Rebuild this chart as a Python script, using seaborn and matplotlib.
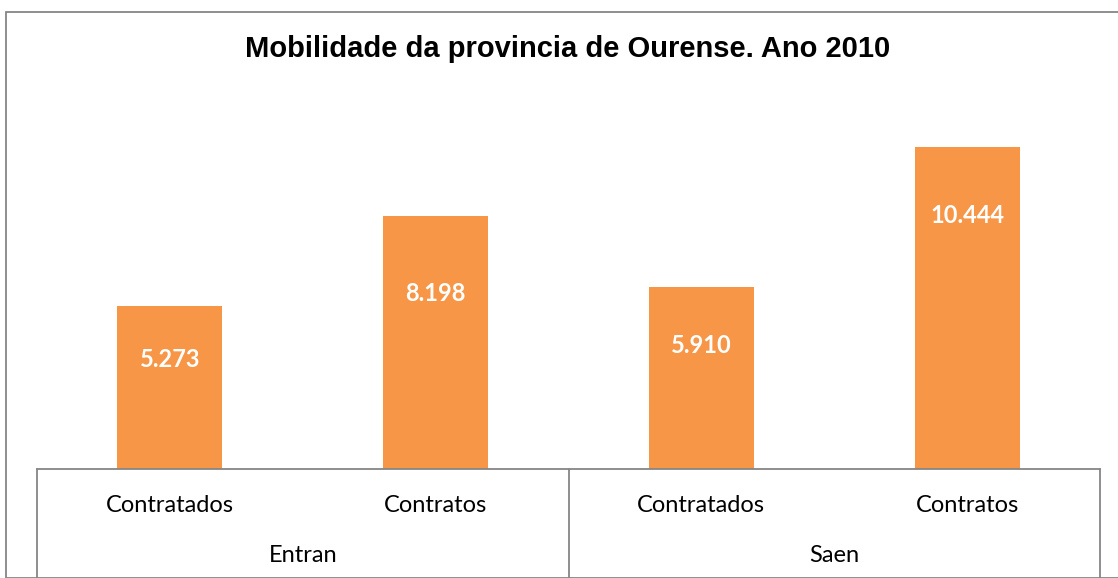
import numpy as np
import pandas as pd
import matplotlib
matplotlib.use('Agg')
import matplotlib.pyplot as plt
import matplotlib.patches as mpatches
import seaborn as sns

# Datos del gráfico
grupos = ['Entran', 'Saen']
categorias = ['Contratados', 'Contratos']
valores = [5273, 8198, 5910, 10444]
etiquetas = ['5.273', '8.198', '5.910', '10.444']

titulo = 'Mobilidade da provincia de Ourense. Ano 2010'
naranja = '#F79646'
gris = '#868686'

datos = pd.DataFrame({
    'clave': [f'{g}-{c}' for g in grupos for c in categorias],
    'categoria': [c for g in grupos for c in categorias],
    'valor': valores,
})

sns.set_style('white')
plt.rcParams['font.family'] = ['Lato', 'DejaVu Sans']

W, H = 1118, 578
fig = plt.figure(figsize=(W / 100, H / 100), dpi=100)

# borde del gráfico
fig.patches.append(mpatches.Rectangle((6 / W, 0), 2, 1 - 12 / H, transform=fig.transFigure,
                                      fill=False, edgecolor=gris, linewidth=1.3))

izq, der, base, techo = 37, 1100, 469, 99
ax = fig.add_axes([izq / W, (H - base) / H, (der - izq) / W, (base - techo) / H])

sns.barplot(data=datos, x='clave', y='valor', color=naranja, width=0.395,
            saturation=1, ax=ax, edgecolor='none')
ax.set_ylim(0, 12000)
ax.set_xlim(-0.5, 3.5)
ax.set_xlabel('')
ax.set_ylabel('')
ax.set_yticks([])
ax.set_xticks([])
for s in ['top', 'right', 'left']:
    ax.spines[s].set_visible(False)
ax.spines['bottom'].set_color(gris)
ax.spines['bottom'].set_linewidth(1.3)

# etiquetas de valores dentro de las barras
desplaz = [53, 77, 59, 69]
for i, (v, t) in enumerate(zip(valores, etiquetas)):
    ax.annotate(t, (i, v), xytext=(0, -desplaz[i] * 0.72), textcoords='offset points',
                ha='center', va='center', color='white', fontsize=17, fontweight='bold')

# ejes categóricos de dos niveles
trans = ax.get_xaxis_transform()
for i, c in enumerate(datos['categoria']):
    ax.text(i, -36 / (base - techo), c, transform=trans, ha='center', va='center',
            fontsize=17, color='black')
for j, g in enumerate(grupos):
    ax.text(2 * j + 0.5, -87 / (base - techo), g, transform=trans, ha='center', va='center',
            fontsize=17, color='black')
for xv in [-0.5, 1.5, 3.5]:
    ax.plot([xv, xv], [0, -0.35], transform=trans, color=gris, linewidth=1.3, clip_on=False)

fig.text(568 / W, 1 - 49 / H, titulo, ha='center', va='center', fontsize=21,
         fontweight='bold', color='black', family=['Liberation Sans', 'DejaVu Sans'])

fig.savefig('out.png', dpi=100)
